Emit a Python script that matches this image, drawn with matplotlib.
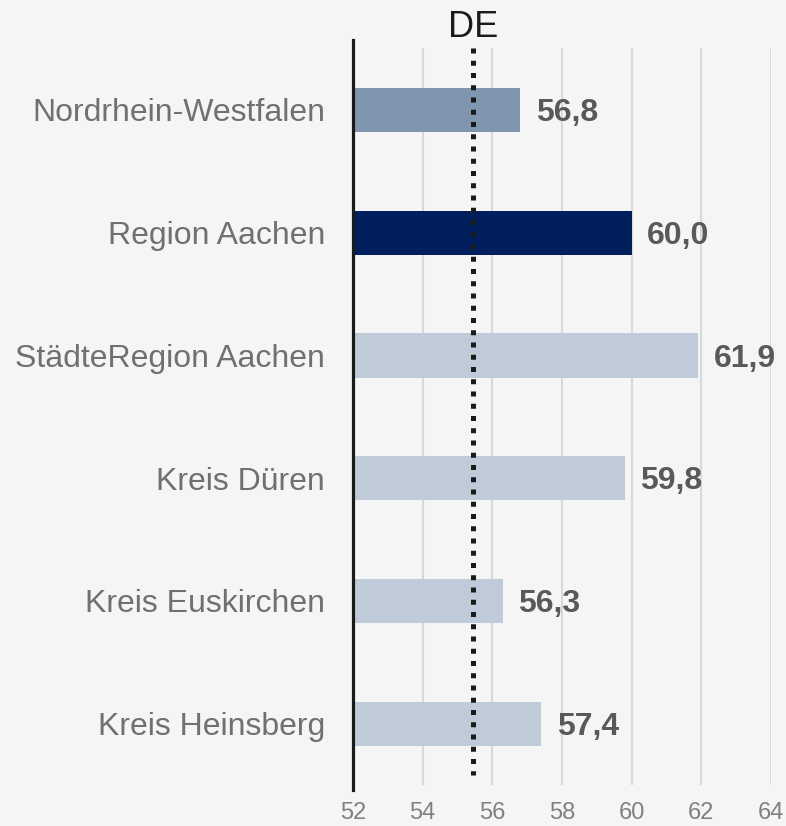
import matplotlib.pyplot as plt

plt.rcParams['font.family'] = ['Liberation Sans', 'DejaVu Sans']

# Data
regions = ['Nordrhein-Westfalen', 'Region Aachen', 'StädteRegion Aachen',
           'Kreis Düren', 'Kreis Euskirchen', 'Kreis Heinsberg']
values = [56.8, 60.0, 61.9, 59.8, 56.3, 57.4]
de_value = 55.45
bar_colors = ['#8096b0', '#001f5c', '#bfcbd9', '#bfcbd9', '#bfcbd9', '#bfcbd9']
xticks = [52, 54, 56, 58, 60, 62, 64]

bg = '#f5f5f5'
fig = plt.figure(figsize=(7.86, 8.26), dpi=100, facecolor=bg)
ax = fig.add_axes([0.449, 0.0436, 0.532, 0.908], facecolor=bg)

ypos = list(range(len(regions)))
x0 = 52

# gridlines
ax.vlines(xticks[1:], -0.505, 5.5, color='#d9d9d9', lw=1.5, zorder=0)

ax.barh(ypos, [v - x0 for v in values], left=x0, height=0.36,
        color=bar_colors, zorder=2)

# DE reference line
ax.plot([de_value, de_value], [-0.505, 5.415], color='#1a1a1a', lw=3.6,
        linestyle=(0, (1, 1.45)), dash_capstyle='butt', zorder=3)
ax.text(de_value, -0.53, 'DE', ha='center', va='bottom', fontsize=26,
        color='#1a1a1a')

# value labels
for y, v in zip(ypos, values):
    ax.text(v + 0.45, y + 0.025, f'{v:.1f}'.replace('.', ','), ha='left',
            va='center', fontsize=23, fontweight='bold', color='#595959')

ax.set_xlim(52, 64)
ax.set_ylim(5.54, -0.57)
ax.set_xticks(xticks)
ax.set_yticks(ypos)
ax.set_yticklabels(regions, fontsize=23, color='#707070')
ax.tick_params(axis='x', length=0, labelsize=17, labelcolor='#808080', pad=9)
ax.tick_params(axis='y', length=0, pad=20)

for side in ['top', 'right', 'bottom']:
    ax.spines[side].set_visible(False)
ax.spines['left'].set_color('#1a1a1a')
ax.spines['left'].set_linewidth(2.3)

fig.savefig('out.png', dpi=100, facecolor=bg)
